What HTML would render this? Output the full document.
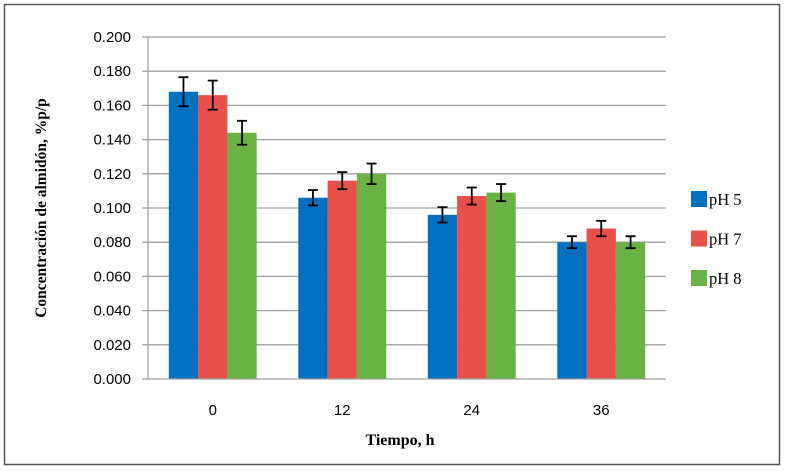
<!DOCTYPE html>
<html><head><meta charset="utf-8"><style>
body{margin:0;background:#fff;width:787px;height:471px;overflow:hidden}
svg{font-family:"Liberation Serif",serif}
.tk{font-family:"Liberation Sans",sans-serif}
</style></head><body>
<svg width="787" height="471">
<rect x="4.5" y="4.5" width="775" height="460" fill="#fff" stroke="#555" stroke-width="1.5"/>
<g id="grid"></g><g id="bars"></g><g id="axes"></g>
<text x="0" y="0" transform="translate(46,208) rotate(-90)" text-anchor="middle" font-size="15.5" font-weight="bold">Concentración de almidón, %p/p</text>
<text x="400" y="445" text-anchor="middle" font-size="16" font-weight="bold">Tiempo, h</text>
<g id="legend"></g>
</svg>
<script>
const categories=["0","12","24","36"];
const seriesNames=["pH 5","pH 7","pH 8"];
const colors=["#0070C0","#E8504A","#6BB244"];
const ph5=[0.168,0.106,0.096,0.080];
const ph7=[0.166,0.116,0.107,0.088];
const ph8=[0.144,0.120,0.109,0.080];
const err5=[0.0085,0.0045,0.0045,0.0035];
const err7=[0.0085,0.005,0.005,0.0045];
const err8=[0.007,0.006,0.005,0.0035];
const yTicks=[0,0.02,0.04,0.06,0.08,0.10,0.12,0.14,0.16,0.18,0.20];
const NS="http://www.w3.org/2000/svg";
const X0=148,X1=666,Y0=379,Y1=37,YMAX=0.2;
const y=v=>Y0-(v/YMAX)*(Y0-Y1);
const cw=(X1-X0)/categories.length;
function mk(t,a,p){const e=document.createElementNS(NS,t);for(const k in a)e.setAttribute(k,a[k]);p.appendChild(e);return e;}
const grid=document.getElementById('grid'),axes=document.getElementById('axes'),bars=document.getElementById('bars'),leg=document.getElementById('legend');
yTicks.forEach(v=>{
 if(v>0){const g=mk('line',{x1:X0,x2:X1,y1:y(v),y2:y(v),stroke:'#A0A0A0','stroke-width':1.3},grid);
 
 }
 const tk=mk('line',{x1:X0-6,x2:X0,y1:y(v),y2:y(v),stroke:'#A0A0A0','stroke-width':1.3},axes);
 
 
 const t=mk('text',{x:X0-17,y:y(v)+5,'text-anchor':'end','font-size':15,'class':'tk'},axes);
 t.textContent=v.toFixed(3);
 
 
});
const ax=mk('line',{x1:X0,x2:X0,y1:Y1,y2:Y0,stroke:'#A0A0A0','stroke-width':1.3},axes);


const xa=mk('line',{x1:X0,x2:X1,y1:Y0,y2:Y0,stroke:'#A0A0A0','stroke-width':1.3},axes);


const vals=[ph5,ph7,ph8],errs=[err5,err7,err8];
const bw=29.3,gw=bw*3;
categories.forEach((c,i)=>{
 const cx=X0+cw*(i+0.5);
 const t=mk('text',{x:cx,y:Y0+36,'text-anchor':'middle','font-size':15,'class':'tk'},axes);
 t.textContent=c;
 
 
 for(let s=0;s<3;s++){
  const bx=cx-gw/2+s*bw,v=vals[s][i],e=errs[s][i];
  const r=mk('rect',{x:bx,y:y(v),width:bw,height:Y0-y(v),fill:colors[s]},bars);
  
  
  const mx=bx+bw/2,g=mk('g',{stroke:'#000','stroke-width':1.8},bars);
  
  
  mk('line',{x1:mx,x2:mx,y1:y(v+e),y2:y(v-e)},g);
  mk('line',{x1:mx-5,x2:mx+5,y1:y(v+e),y2:y(v+e)},g);
  mk('line',{x1:mx-5,x2:mx+5,y1:y(v-e),y2:y(v-e)},g);
 }
});
seriesNames.forEach((n,s)=>{
 const yy=191+s*39.5;
 const g=mk('g',{},leg);
 
 
 mk('rect',{x:691,y:yy,width:16,height:16,fill:colors[s]},g);
 const t=mk('text',{x:709,y:yy+14,'font-size':16.5},g);
 t.textContent=n;
});
</script>
</body></html>
